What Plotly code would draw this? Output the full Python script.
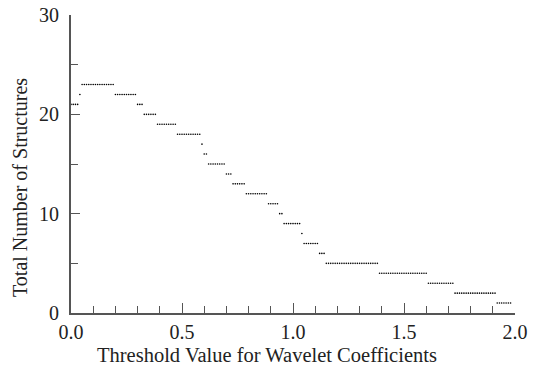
import plotly.graph_objects as go

# Threshold values (x) sampled every 0.01 from 0.00 to 1.98
threshold = [round(i * 0.01, 2) for i in range(199)]

# Total number of structures, one per threshold value
structures = (
    [21, 21, 21, 21]                                   # 0.00-0.03
    + [22]                                             # 0.04
    + [23, 23, 23, 23, 23, 23, 23, 23, 23, 23, 23, 23, 23, 23, 23]  # 0.05-0.19
    + [22, 22, 22, 22, 22, 22, 22, 22, 22, 22]         # 0.20-0.29
    + [21, 21, 21]                                     # 0.30-0.32
    + [20, 20, 20, 20, 20, 20]                         # 0.33-0.38
    + [19, 19, 19, 19, 19, 19, 19, 19, 19]             # 0.39-0.47
    + [18, 18, 18, 18, 18, 18, 18, 18, 18, 18, 18]     # 0.48-0.58
    + [17]                                             # 0.59
    + [16, 16]                                         # 0.60-0.61
    + [15, 15, 15, 15, 15, 15, 15, 15]                 # 0.62-0.69
    + [14, 14, 14]                                     # 0.70-0.72
    + [13, 13, 13, 13, 13, 13]                         # 0.73-0.78
    + [12, 12, 12, 12, 12, 12, 12, 12, 12, 12]         # 0.79-0.88
    + [11, 11, 11, 11, 11]                             # 0.89-0.93
    + [10, 10]                                         # 0.94-0.95
    + [9, 9, 9, 9, 9, 9, 9, 9]                         # 0.96-1.03
    + [8]                                              # 1.04
    + [7, 7, 7, 7, 7, 7, 7]                            # 1.05-1.11
    + [6, 6, 6]                                        # 1.12-1.14
    + [5, 5, 5, 5, 5, 5, 5, 5, 5, 5, 5, 5,
       5, 5, 5, 5, 5, 5, 5, 5, 5, 5, 5, 5]             # 1.15-1.38
    + [4, 4, 4, 4, 4, 4, 4, 4, 4, 4, 4,
       4, 4, 4, 4, 4, 4, 4, 4, 4, 4, 4]                # 1.39-1.60
    + [3, 3, 3, 3, 3, 3, 3, 3, 3, 3, 3, 3]             # 1.61-1.72
    + [2, 2, 2, 2, 2, 2, 2, 2, 2, 2,
       2, 2, 2, 2, 2, 2, 2, 2, 2]                      # 1.73-1.91
    + [1, 1, 1, 1, 1, 1, 1]                            # 1.92-1.98
)

x_ticks = [0.0, 0.5, 1.0, 1.5, 2.0]
x_tick_labels = ["0.0", "0.5", "1.0", "1.5", "2.0"]
y_ticks = [0, 10, 20, 30]
y_tick_labels = ["0", "10", "20", "30"]
x_title = "Threshold Value for Wavelet Coefficients"
y_title = "Total Number of Structures"

FONT = "Liberation Serif"
AXIS_COLOR = "#555555"
TEXT_COLOR = "#222222"

fig = go.Figure(
    go.Scatter(
        x=threshold,
        y=structures,
        mode="markers",
        marker=dict(size=1.6, color="black", line=dict(width=0)),
        hoverinfo="x+y",
    )
)

fig.update_layout(
    width=534,
    height=370,
    margin=dict(l=71, r=19, t=15, b=57, autoexpand=False),
    paper_bgcolor="white",
    plot_bgcolor="white",
    showlegend=False,
    font=dict(family=FONT, color=TEXT_COLOR, size=19),
)

fig.update_xaxes(
    range=[0, 2],
    tickmode="array",
    tickvals=x_ticks,
    ticktext=x_tick_labels,
    ticks="inside",
    ticklen=10,
    tickwidth=1.3,
    tickcolor=AXIS_COLOR,
    minor=dict(dtick=0.1, ticks="inside", ticklen=7, tickwidth=1.1, tickcolor=AXIS_COLOR),
    showline=True,
    linecolor=AXIS_COLOR,
    linewidth=1.8,
    showgrid=False,
    zeroline=False,
    automargin=False,
    tickfont=dict(family=FONT, size=20, color=TEXT_COLOR),
    ticklabelstandoff=0,
)

fig.update_yaxes(
    range=[0, 30],
    tickmode="array",
    tickvals=y_ticks,
    ticktext=y_tick_labels,
    ticks="inside",
    ticklen=9,
    tickwidth=1.3,
    tickcolor=AXIS_COLOR,
    minor=dict(dtick=5, ticks="inside", ticklen=7, tickwidth=1.1, tickcolor=AXIS_COLOR),
    showline=True,
    linecolor=AXIS_COLOR,
    linewidth=1.8,
    showgrid=False,
    zeroline=False,
    automargin=False,
    tickfont=dict(family=FONT, size=20, color=TEXT_COLOR),
    ticklabelstandoff=6,
)

# Axis titles, centred on the figure as in the reference
fig.add_annotation(
    text=x_title, xref="paper", yref="paper",
    x=(267 - 71) / 444, y=(313 - 355) / 298,
    xanchor="center", yanchor="middle", showarrow=False,
    font=dict(family=FONT, size=20.5, color=TEXT_COLOR),
)
fig.add_annotation(
    text=y_title, xref="paper", yref="paper",
    x=(20 - 71) / 444, y=(313 - 188) / 298,
    xanchor="center", yanchor="middle", textangle=-90, showarrow=False,
    font=dict(family=FONT, size=20, color=TEXT_COLOR),
)

fig.write_html("out.html")
